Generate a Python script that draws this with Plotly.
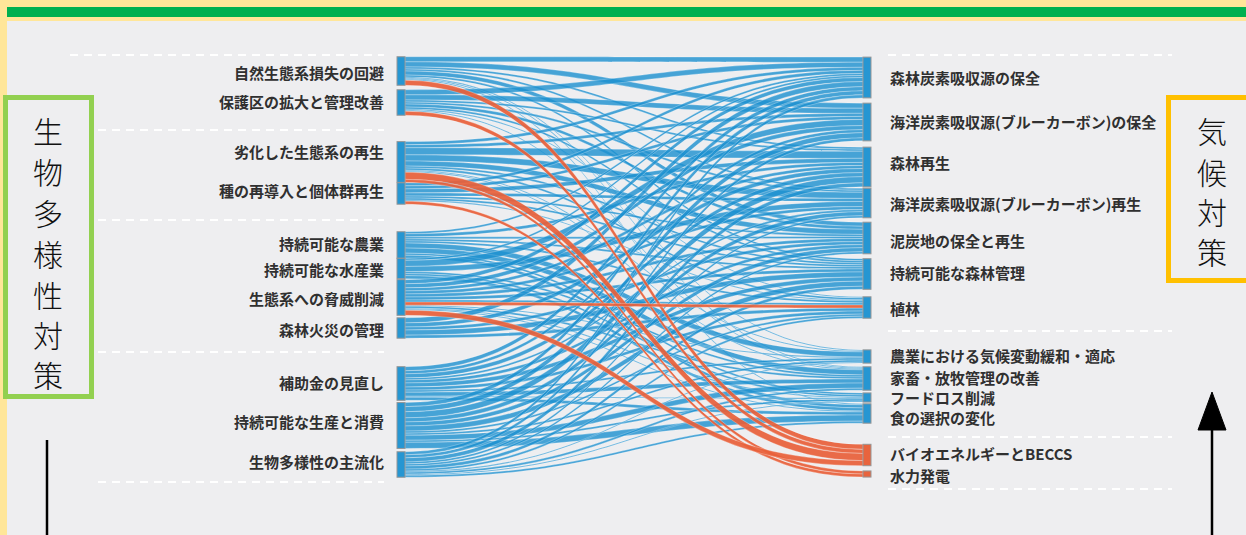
import plotly.graph_objects as go

W, H = 1246, 535

# ---------------- data ----------------
left_labels = [
    "自然生態系損失の回避", "保護区の拡大と管理改善", "劣化した生態系の再生",
    "種の再導入と個体群再生", "持続可能な農業", "持続可能な水産業",
    "生態系への脅威削減", "森林火災の管理", "補助金の見直し",
    "持続可能な生産と消費", "生物多様性の主流化",
]
right_labels = [
    "森林炭素吸収源の保全", "海洋炭素吸収源(ブルーカーボン)の保全", "森林再生",
    "海洋炭素吸収源(ブルーカーボン)再生", "泥炭地の保全と再生", "持続可能な森林管理",
    "植林", "農業における気候変動緩和・適応", "家畜・放牧管理の改善",
    "フードロス削減", "食の選択の変化", "バイオエネルギーとBECCS", "水力発電",
]
left_title = "生物多様性対策"
right_title = "気候対策"

# synergy flows (blue): rows = left measures, columns = first 11 right measures
blue_flows = [
    [5, 5, 2, 2, 4, 2, 0, 1, 1, 0, 1],
    [5, 5, 2, 2, 3, 2, 1, 0, 1, 0, 0],
    [3, 3, 7, 6, 5, 2, 2, 1, 1, 0, 0],
    [3, 3, 4, 3, 2, 2, 1, 0, 0, 0, 0],
    [2, 0, 3, 0, 2, 2, 2, 5, 5, 2, 3],
    [2, 6, 0, 5, 0, 0, 0, 0, 2, 2, 3],
    [4, 4, 3, 3, 3, 3, 2, 1, 2, 1, 1],
    [5, 0, 4, 0, 3, 5, 3, 0, 0, 0, 0],
    [4, 3, 4, 2, 3, 4, 3, 2, 4, 1, 3],
    [4, 5, 6, 4, 4, 5, 2, 2, 5, 2, 6],
    [3, 3, 4, 2, 2, 3, 2, 1, 2, 1, 2],
]
# trade-off flows (red)
red_src = [0, 1, 2, 2, 3, 6, 6]
red_tgt = [11, 11, 11, 12, 12, 6, 11]
red_val = [5, 4, 7, 3, 3, 3, 5]

# ---------------- layout positions (pixels) ----------------
left_center_px = [71, 102.5, 162, 193.5, 245, 268.5, 297.5, 328, 383.5, 425.5, 464.5]
right_center_px = [77.5, 122, 167, 203, 238, 274, 307.5, 356.5, 378.5, 397.5, 413.5, 455, 474]
left_label_y = [73, 101, 151, 190, 243, 270, 298, 329, 382, 421, 461]
right_label_y = [78, 121, 162, 203, 240, 272, 308, 355, 377, 397, 417, 453, 475]
left_title_y = [130, 171, 212, 253, 294, 334, 374]
right_title_y = [130, 171, 211, 251]

SK_X0, SK_X1 = 397, 871     # outer node edges
SK_Y0, SK_Y1 = 57, 477
THICK = 8

BLUE = "rgba(28,144,208,0.80)"
RED = "rgba(232,96,58,0.92)"
NODE_BLUE = "rgb(38,150,210)"
NODE_RED = "rgb(232,100,62)"


def px(x):
    return x / W


def py(y):
    return 1 - y / H


nL, nR = len(left_labels), len(right_labels)
src, tgt, val, col = [], [], [], []
for i, row in enumerate(blue_flows):
    for j, v in enumerate(row):
        if v > 0:
            src.append(i)
            tgt.append(nL + j)
            val.append(v)
            col.append(BLUE)
for s, t, v in zip(red_src, red_tgt, red_val):
    src.append(s)
    tgt.append(nL + t)
    val.append(v)
    col.append(RED)

span_w = SK_X1 - SK_X0
span_h = SK_Y1 - SK_Y0
node_x = [(THICK / 2) / span_w] * nL + [1 - (THICK / 2) / span_w] * nR
node_y = [(c - SK_Y0) / span_h for c in left_center_px] + [(c - SK_Y0) / span_h for c in right_center_px]
node_col = [NODE_BLUE] * nL + [NODE_BLUE] * (nR - 2) + [NODE_RED, NODE_RED]

fig = go.Figure(go.Sankey(
    arrangement="fixed",
    domain=dict(x=[px(SK_X0), px(SK_X1)], y=[py(SK_Y1), py(SK_Y0)]),
    node=dict(
        label=[""] * (nL + nR),
        customdata=left_labels + right_labels,
        hovertemplate="%{customdata}<extra></extra>",
        x=node_x, y=node_y, pad=8, thickness=THICK,
        color=node_col,
        line=dict(color="rgb(150,150,150)", width=1),
    ),
    link=dict(
        source=src, target=tgt, value=val, color=col,
        line=dict(color="rgba(255,255,255,0.55)", width=0.5),
    ),
))

FONT = "Noto Sans CJK JP"
annotations = []
for lab, y in zip(left_labels, left_label_y):
    annotations.append(dict(x=px(386), y=py(y), xref="paper", yref="paper", text=lab,
                            showarrow=False, xanchor="right", yanchor="middle",
                            font=dict(family=FONT, size=15, color="#303030", weight=700)))
for lab, y in zip(right_labels, right_label_y):
    annotations.append(dict(x=px(888), y=py(y), xref="paper", yref="paper", text=lab,
                            showarrow=False, xanchor="left", yanchor="middle",
                            font=dict(family=FONT, size=15, color="#303030", weight=700)))
for ch, y in zip(left_title, left_title_y):
    annotations.append(dict(x=px(48), y=py(y), xref="paper", yref="paper", text=ch,
                            showarrow=False, xanchor="center", yanchor="middle",
                            font=dict(family=FONT, size=30, color="#111", weight=300)))
for ch, y in zip(right_title, right_title_y):
    annotations.append(dict(x=px(1212), y=py(y), xref="paper", yref="paper", text=ch,
                            showarrow=False, xanchor="center", yanchor="middle",
                            font=dict(family=FONT, size=30, color="#111", weight=300)))

shapes = []


def rect(x0, y0, x1, y1, fill, line_color=None, lw=0, layer="below"):
    shapes.append(dict(type="rect", xref="paper", yref="paper",
                       x0=px(x0), x1=px(x1), y0=py(y1), y1=py(y0),
                       fillcolor=fill, layer=layer,
                       line=dict(color=line_color or fill, width=lw)))


def hline(x0, x1, y, color, width, dash="solid"):
    shapes.append(dict(type="line", xref="paper", yref="paper",
                       x0=px(x0), x1=px(x1), y0=py(y), y1=py(y),
                       line=dict(color=color, width=width, dash=dash), layer="below"))


def vline(x, y0, y1, color, width):
    shapes.append(dict(type="line", xref="paper", yref="paper",
                       x0=px(x), x1=px(x), y0=py(y0), y1=py(y1),
                       line=dict(color=color, width=width)))


# frame
rect(0, 0, W, 21, "#ffe699")
rect(0, 7, W, 17, "#00b050")
rect(0, 0, 7, H, "#ffe699")

# dashed separators
DASH = "8px,6px"
hline(70, 384, 55, "white", 2, DASH)
for y in [130, 220, 352, 482]:
    hline(98, 384, y, "white", 2, DASH)
for y in [55, 331, 437, 489]:
    hline(888, 1172, y, "white", 2, DASH)

# title boxes
rect(5.5, 97.5, 91.5, 396.5, "rgba(0,0,0,0)", "#92d050", 5, layer="above")
rect(1168.5, 97.5, 1252, 280.5, "rgba(0,0,0,0)", "#ffc000", 5, layer="above")

# arrows
vline(47, 440, 540, "black", 2.5)
vline(1212, 425, 540, "black", 2.5)
tri = "M {},{} L {},{} L {},{} Z".format(px(1198), py(430), px(1226), py(430), px(1212), py(392))
shapes.append(dict(type="path", xref="paper", yref="paper", path=tri,
                   fillcolor="black", line=dict(color="black", width=1)))

fig.update_layout(
    width=W, height=H,
    margin=dict(l=0, r=0, t=0, b=0),
    paper_bgcolor="#eeeef0",
    plot_bgcolor="#eeeef0",
    annotations=annotations,
    shapes=shapes,
    font=dict(family=FONT),
    showlegend=False,
)

fig.write_html(
    "out.html",
    config={"displayModeBar": False},
    post_script="document.body.style.margin='0';document.body.style.overflow='hidden';",
)
